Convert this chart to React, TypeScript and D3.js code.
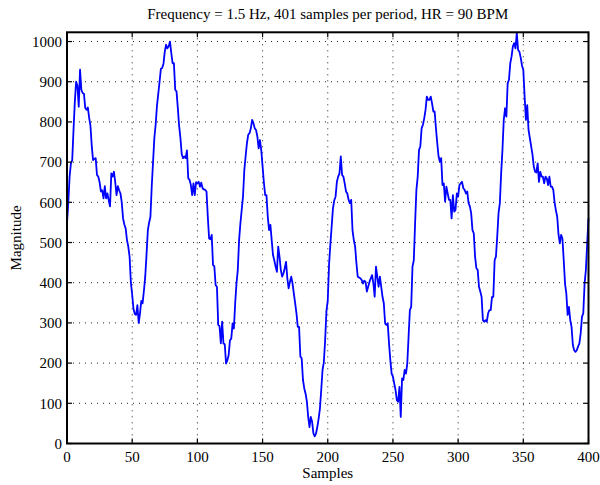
import React from 'react';
import * as d3 from 'd3';

const title = 'Frequency = 1.5 Hz, 401 samples per period, HR = 90 BPM';
const xLabel = 'Samples';
const yLabel = 'Magnitude';
const xTicks = [0, 50, 100, 150, 200, 250, 300, 350, 400];
const yTicks = [0, 100, 200, 300, 400, 500, 600, 700, 800, 900, 1000];

// one value per sample (sample index = position)
const magnitude = [
  548, 600, 664, 697, 705, 780, 850, 900, 890, 838,
  930, 880, 872, 870, 835, 830, 836, 810, 790, 740,
  705, 708, 710, 668, 664, 650, 627, 630, 610, 640,
  610, 622, 605, 590, 672, 664, 676, 650, 618, 640,
  630, 622, 600, 560, 545, 535, 506, 490, 465, 400,
  370, 335, 322, 320, 344, 300, 324, 355, 349, 380,
  415, 470, 530, 550, 564, 640, 700, 760, 793, 840,
  870, 900, 932, 934, 945, 975, 992, 983, 988, 1000,
  971, 946, 946, 880, 876, 835, 790, 760, 720, 710,
  714, 710, 729, 660, 656, 643, 618, 647, 618, 650,
  647, 651, 639, 649, 635, 632, 631, 627, 564, 510,
  508, 519, 444, 441, 394, 390, 295, 292, 249, 303,
  249, 247, 199, 207, 220, 257, 261, 299, 286, 349,
  398, 432, 506, 548, 581, 614, 680, 714, 747, 768,
  772, 784, 805, 797, 784, 780, 764, 734, 755, 730,
  690, 650, 618, 618, 564, 531, 544, 506, 469, 456,
  440, 427, 490, 465, 432, 415, 423, 436, 452, 411,
  386, 402, 415, 398, 373, 349, 324, 290, 290, 216,
  212, 158, 137, 124, 104, 66, 41, 66, 54, 25,
  18, 25, 41, 62, 87, 133, 183, 202, 257, 330,
  355, 445, 495, 540, 585, 605, 614, 651, 664, 672,
  714, 668, 664, 647, 627, 622, 606, 598, 606, 530,
  506, 490, 448, 415, 413, 411, 407, 398, 405, 402,
  378, 390, 402, 411, 419, 398, 365, 440, 415, 390,
  415, 390, 365, 349, 299, 295, 299, 249, 207, 174,
  166, 149, 133, 108, 104, 141, 66, 162, 158, 183,
  174, 199, 266, 332, 340, 440, 456, 548, 631, 664,
  730, 739, 784, 793, 809, 830, 863, 855, 855, 863,
  846, 826, 826, 784, 747, 714, 701, 710, 643, 647,
  602, 639, 622, 606, 606, 560, 618, 577, 581, 622,
  614, 643, 647, 651, 635, 631, 622, 627, 598, 590,
  573, 531, 523, 465, 436, 432, 390, 378, 365, 307,
  303, 307, 303, 324, 332, 332, 365, 365, 456, 465,
  515, 573, 598, 672, 730, 805, 834, 813, 896, 905,
  946, 963, 988, 996, 983, 1021, 979, 975, 960, 940,
  930, 863, 805, 842, 780, 760, 740, 720, 690, 676,
  674, 697, 651, 676, 664, 664, 647, 664, 660, 643,
  664, 639, 639, 631, 600, 580, 564, 520, 498, 519,
  510, 456, 398, 373, 320, 340, 307, 290, 245, 232,
  228, 232, 241, 249, 274, 315, 324, 398, 432, 498,
  560,
];

const W = 600;
const H = 485;
const left = 67;
const right = 588.5;
const top = 32.3;
const bottom = 443.5;
const font = '"Liberation Serif", "Times New Roman", serif';

export default function App() {
  const x = d3.scaleLinear().domain([0, 400]).range([left, right]);
  const y = d3.scaleLinear().domain([0, 1023]).range([bottom, top]);

  const line = d3.line<number>()
    .x((_, i) => x(i))
    .y((d) => y(d));

  const tickLen = 5;

  return (
    <svg
      width={W}
      height={H}
      style={{ position: 'absolute', left: 0, top: 0, background: '#fff' }}
      fontFamily={font}
    >
      <rect x={0} y={0} width={W} height={H} fill="#fff" />

      {/* dotted grid */}
      {xTicks.map((t) => (
        <line key={'gx' + t} x1={x(t)} x2={x(t)} y1={top} y2={bottom}
          stroke="#222" strokeWidth={1} strokeDasharray="1,5" />
      ))}
      {yTicks.map((t) => (
        <line key={'gy' + t} x1={left} x2={right} y1={y(t)} y2={y(t)}
          stroke="#222" strokeWidth={1} strokeDasharray="1,5" />
      ))}

      <path d={line(magnitude) || ''} fill="none" stroke="#0000ff" strokeWidth={1.8}
        strokeLinejoin="round" />

      {/* inward ticks on all sides */}
      {xTicks.map((t) => (
        <g key={'tx' + t} stroke="#000" strokeWidth={1.2}>
          <line x1={x(t)} x2={x(t)} y1={bottom} y2={bottom - tickLen} />
          <line x1={x(t)} x2={x(t)} y1={top} y2={top + tickLen} />
        </g>
      ))}
      {yTicks.map((t) => (
        <g key={'ty' + t} stroke="#000" strokeWidth={1.2}>
          <line x1={left} x2={left + tickLen} y1={y(t)} y2={y(t)} />
          <line x1={right} x2={right - tickLen} y1={y(t)} y2={y(t)} />
        </g>
      ))}

      <rect x={left} y={top} width={right - left} height={bottom - top}
        fill="none" stroke="#000" strokeWidth={2} />

      {xTicks.map((t) => (
        <text key={'lx' + t} x={x(t)} y={462} textAnchor="middle" fontSize={15}>{t}</text>
      ))}
      {yTicks.map((t) => (
        <text key={'ly' + t} x={62} y={y(t)} dy="0.35em" textAnchor="end" fontSize={15}>{t}</text>
      ))}

      <text x={(left + right) / 2} y={19} textAnchor="middle" fontSize={15}>{title}</text>
      <text x={(left + right) / 2} y={478} textAnchor="middle" fontSize={15}>{xLabel}</text>
      <text transform={`translate(21,${(top + bottom) / 2}) rotate(-90)`} textAnchor="middle"
        fontSize={15}>{yLabel}</text>
    </svg>
  );
}
